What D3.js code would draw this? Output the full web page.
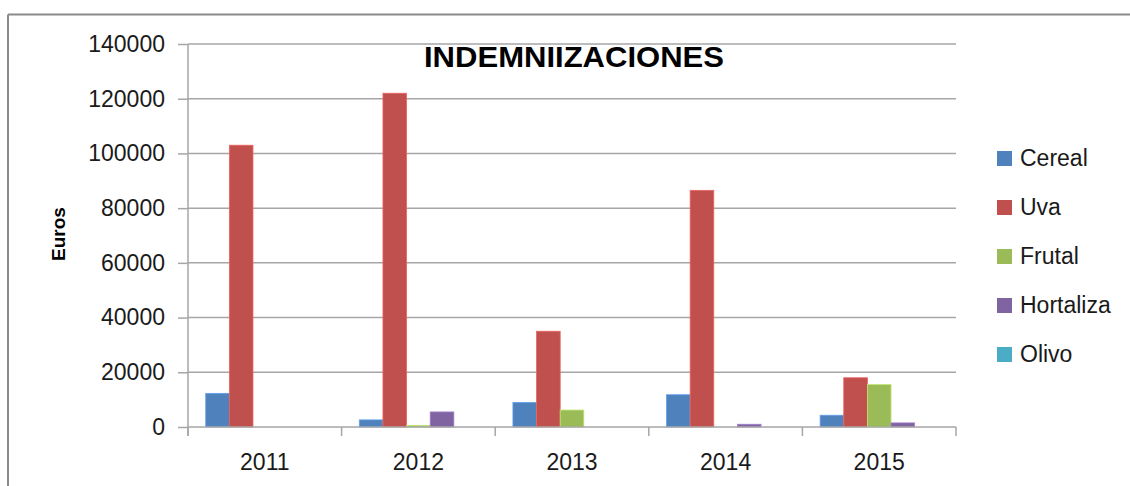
<!DOCTYPE html>
<html>
<head>
<meta charset="utf-8">
<script src="https://cdn.jsdelivr.net/npm/d3@7"></script>
<style>
  html, body { margin: 0; padding: 0; background: #fff; }
  svg { display: block; }
  text { font-family: "Liberation Sans", Arial, sans-serif; fill: #1a1a1a; }
</style>
</head>
<body>
<div id="chart"></div>
<script>
// data
var years = ["2011", "2012", "2013", "2014", "2015"];
var seriesNames = ["Cereal", "Uva", "Frutal", "Hortaliza", "Olivo"];
var cereal    = [12300, 2600, 9000, 11800, 4300];
var uva       = [103000, 122000, 35000, 86500, 18000];
var frutal    = [0, 600, 6200, 0, 15500];
var hortaliza = [0, 5500, 0, 1000, 1500];
var olivo     = [0, 0, 0, 0, 0];
var yTicks = [0, 20000, 40000, 60000, 80000, 100000, 120000, 140000];

var colors = ["#4f81bd", "#c0504d", "#9bbb59", "#8064a2", "#4bacc6"];
var allSeries = [cereal, uva, frutal, hortaliza, olivo];

var W = 1130, H = 486;
var plotLeft = 188, plotRight = 956, plotTop = 44, plotBottom = 427;
var fs = 23;

var svg = d3.select("#chart").append("svg")
  .attr("width", W)
  .attr("height", H);

// outer chart border (only top & left are inside the picture)
svg.append("line").attr("x1", 8).attr("y1", 14.5).attr("x2", W).attr("y2", 14.5)
  .attr("stroke", "#8a8a8a").attr("stroke-width", 2);
svg.append("line").attr("x1", 8).attr("y1", 14.5).attr("x2", 8).attr("y2", H)
  .attr("stroke", "#8a8a8a").attr("stroke-width", 2);

var x = d3.scaleBand().domain(years).range([plotLeft, plotRight]).paddingInner(0).paddingOuter(0);
var xs = d3.scaleBand().domain(seriesNames).range([0, x.bandwidth()]).paddingInner(0).paddingOuter(0.75);
var y = d3.scaleLinear().domain([0, 140000]).range([plotBottom, plotTop]);

// gridlines
svg.append("g").selectAll("line")
  .data(yTicks.slice(1))
  .enter().append("line")
  .attr("x1", plotLeft).attr("x2", plotRight)
  .attr("y1", function(d) { return y(d); })
  .attr("y2", function(d) { return y(d); })
  .attr("stroke", "#a6a6a6")
  .attr("stroke-width", 1.5);

// y axis
var yAxis = d3.axisLeft(y).tickValues(yTicks).tickSize(10).tickPadding(13).tickFormat(d3.format("d"));
var gy = svg.append("g").attr("transform", "translate(" + plotLeft + ",0)").call(yAxis);
gy.select(".domain").remove();
gy.selectAll(".tick line").attr("stroke", "#a6a6a6").attr("stroke-width", 1.5);
gy.selectAll(".tick text")
  .attr("font-size", fs)
  .attr("font-family", "Liberation Sans, Arial, sans-serif")
  .attr("fill", "#1a1a1a");
svg.append("line").attr("x1", plotLeft).attr("x2", plotLeft).attr("y1", plotTop).attr("y2", plotBottom + 9)
  .attr("stroke", "#a6a6a6").attr("stroke-width", 1.5);

// bars
var groups = svg.append("g").selectAll("g")
  .data(years)
  .enter().append("g")
  .attr("transform", function(d) { return "translate(" + x(d) + ",0)"; });

groups.selectAll("rect")
  .data(function(d, i) {
    return seriesNames.map(function(s, k) { return { name: s, value: allSeries[k][i], color: colors[k] }; });
  })
  .enter().append("rect")
  .attr("x", function(d) { return xs(d.name); })
  .attr("width", xs.bandwidth())
  .attr("y", function(d) { return y(d.value); })
  .attr("height", function(d) { return y(0) - y(d.value); })
  .attr("fill", function(d) { return d.color; })
  .attr("stroke", function(d) { return d3.color(d.color).brighter(0.6); })
  .attr("stroke-width", 0.8);

// x axis
var xAxis = d3.axisBottom(x).tickSize(0).tickPadding(27);
var gx = svg.append("g").attr("transform", "translate(0," + plotBottom + ")").call(xAxis);
gx.select(".domain").remove();
gx.selectAll(".tick text")
  .attr("font-size", fs)
  .attr("font-family", "Liberation Sans, Arial, sans-serif")
  .attr("fill", "#1a1a1a");
svg.append("line").attr("x1", plotLeft).attr("x2", plotRight).attr("y1", plotBottom).attr("y2", plotBottom)
  .attr("stroke", "#a6a6a6").attr("stroke-width", 1.5);
svg.append("g").selectAll("line")
  .data(d3.range(years.length + 1))
  .enter().append("line")
  .attr("x1", function(i) { return plotLeft + i * x.step(); })
  .attr("x2", function(i) { return plotLeft + i * x.step(); })
  .attr("y1", plotBottom).attr("y2", plotBottom + 9)
  .attr("stroke", "#a6a6a6").attr("stroke-width", 1.5);

// title
svg.append("text")
  .attr("x", 574).attr("y", 67)
  .attr("text-anchor", "middle")
  .attr("font-size", 30)
  .attr("font-weight", "bold")
  .attr("textLength", 300)
  .attr("lengthAdjust", "spacingAndGlyphs")
  .style("fill", "#000")
  .text("INDEMNIIZACIONES");

// y label
svg.append("text")
  .attr("transform", "translate(65,234) rotate(-90)")
  .attr("text-anchor", "middle")
  .attr("font-size", 19)
  .attr("font-weight", "bold")
  .style("fill", "#000")
  .text("Euros");

// legend
var legend = svg.append("g").selectAll("g")
  .data(seriesNames)
  .enter().append("g")
  .attr("transform", function(d, i) { return "translate(997," + (151 + i * 49) + ")"; });
legend.append("rect")
  .attr("width", 15).attr("height", 15)
  .attr("fill", function(d, i) { return colors[i]; });
legend.append("text")
  .attr("x", 23).attr("y", 15)
  .attr("font-size", fs)
  .text(function(d) { return d; });
</script>
</body>
</html>
